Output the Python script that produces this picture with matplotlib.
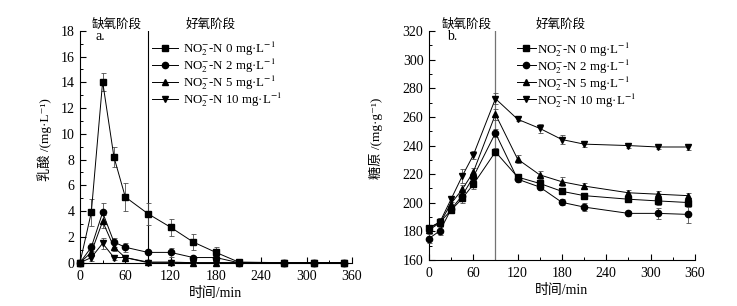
import matplotlib
matplotlib.use("Agg")
import matplotlib.pyplot as plt
from matplotlib.lines import Line2D
from matplotlib.ticker import MultipleLocator

plt.rcParams.update({
    "font.family": ["Liberation Serif", "Noto Sans CJK SC", "DejaVu Serif"],
    "mathtext.fontset": "stix",
    "font.size": 10,
    "axes.linewidth": 0.8,
})

# ---- data ----
TIME = [0, 15, 30, 45, 60, 90, 120, 150, 180, 210, 270, 310, 350]
LABELS = ["NO$_2^{-}$-N 0 mg·L$^{-1}$", "NO$_2^{-}$-N 2 mg·L$^{-1}$",
          "NO$_2^{-}$-N 5 mg·L$^{-1}$", "NO$_2^{-}$-N 10 mg·L$^{-1}$"]
MARKERS = ["s", "o", "^", "v"]

# panel a: lactic acid (mg/L)
LACT_0 = [0, 3.9, 14.05, 8.2, 5.1, 3.8, 2.75, 1.6, 0.8, 0.05, 0, 0, 0]
LACT_2 = [0, 1.2, 3.9, 1.6, 1.2, 0.8, 0.8, 0.4, 0.4, 0, 0, 0, 0]
LACT_5 = [0, 0.8, 3.2, 1.2, 0.4, 0.05, 0.05, 0, 0, 0, 0, 0, 0]
LACT_10 = [0, 0.4, 1.5, 0.4, 0.4, 0, 0, 0, 0, 0, 0, 0, 0]
LACT_ERR_0 = [0, 1.05, 0.7, 0.8, 1.05, 0.85, 0.65, 0.65, 0.4, 0.05, 0, 0, 0]
LACT_ERR_2 = [0, 0.3, 0.7, 0.35, 0.35, 0.1, 0.35, 0.1, 0.3, 0, 0, 0, 0]
LACT_ERR_5 = [0, 0.3, 0.5, 0.3, 0.1, 0.05, 0.05, 0, 0, 0, 0, 0, 0]
LACT_ERR_10 = [0, 0.3, 0.4, 0.2, 0.1, 0, 0, 0, 0, 0, 0, 0, 0]

# panel b: glycogen (mg/g)
GLY_0 = [182.6, 186.5, 194.8, 203, 212.8, 235.6, 218, 213.5, 208, 205, 202.5, 201.3, 200.2]
GLY_2 = [175, 180.5, 195.5, 205, 218, 248.8, 216.5, 211, 200.3, 197, 192.6, 192.6, 191.9]
GLY_5 = [181, 186, 199.5, 209.3, 221.4, 261.9, 230.5, 219.5, 214.7, 211.7, 207, 206, 205]
GLY_10 = [182, 186.7, 202.6, 218.6, 233.3, 272.8, 258.4, 252, 244.2, 241, 240, 239, 239]
GLY_ERR_0 = [2, 3, 2, 3, 3, 2.5, 2, 2, 2, 2, 2, 3, 3]
GLY_ERR_2 = [3, 3, 2, 3, 3, 3, 2, 2, 2, 3, 2, 4, 6]
GLY_ERR_5 = [2, 3, 3, 3, 3, 4, 3, 3, 3, 2, 2, 2, 2]
GLY_ERR_10 = [2, 3, 2, 5, 3, 4, 1.5, 3, 3, 2, 2, 1.5, 2]

CJK = ["Noto Sans CJK SC"]
MS = 4.5


def style_axes(ax, ymaj, ymin):
    for s in ("top", "right"):
        ax.spines[s].set_visible(False)
    ax.set_xlim(0, 360)
    ax.xaxis.set_major_locator(MultipleLocator(60))
    ax.xaxis.set_minor_locator(MultipleLocator(30))
    ax.yaxis.set_major_locator(MultipleLocator(ymaj))
    ax.yaxis.set_minor_locator(MultipleLocator(ymin))
    ax.tick_params(which="major", direction="in", length=4, width=0.8, pad=4)
    ax.tick_params(which="minor", direction="in", length=2, width=0.7)
    ax.tick_params(axis="x", pad=5)


def draw_series(ax, ys, errs):
    for y, e, m in zip(ys, errs, MARKERS):
        ax.errorbar(TIME, y, yerr=e, color="k", lw=0.7, marker=m, ms=MS,
                    ecolor="0.3", elinewidth=0.6, capsize=1.8, capthick=0.6,
                    clip_on=False, zorder=3)


def add_legend(ax, anchor, hlen, hpad):
    handles = [Line2D([0], [0], color="k", lw=0.7, marker=m, ms=MS) for m in MARKERS]
    ax.legend(handles, LABELS, loc="upper left", bbox_to_anchor=anchor,
              frameon=False, handlelength=hlen, handletextpad=hpad, borderpad=0,
              borderaxespad=0, labelspacing=-0.13, fontsize=9.3)


fig = plt.figure(figsize=(7.37, 3.06), dpi=100)
ax1 = fig.add_axes([0.1085, 0.1415, 0.369, 0.758])
ax2 = fig.add_axes([0.582, 0.1503, 0.361, 0.748])

# ---- panel a ----
draw_series(ax1, [LACT_0, LACT_2, LACT_5, LACT_10],
            [LACT_ERR_0, LACT_ERR_2, LACT_ERR_5, LACT_ERR_10])
style_axes(ax1, 2, 1)
ax1.set_ylim(0, 18)
ax1.axvline(90, color="k", lw=0.8, zorder=2)
ax1.set_xlabel("时间/min", labelpad=3)
ax1.set_ylabel("乳酸 /(mg·L⁻¹)", fontsize=9.5)
ax1.yaxis.set_label_coords(-0.103, 0.53)
ax1.text(0.058, 0.975, "a.", transform=ax1.transAxes, va="center", ha="left")
add_legend(ax1, (0.265, 0.962), 2.0, 0.4)

# ---- panel b ----
draw_series(ax2, [GLY_0, GLY_2, GLY_5, GLY_10],
            [GLY_ERR_0, GLY_ERR_2, GLY_ERR_5, GLY_ERR_10])
style_axes(ax2, 20, 10)
ax2.set_ylim(160, 320)
ax2.axvline(90, color="0.45", lw=0.9, zorder=2)
ax2.set_xlabel("时间/min", labelpad=3)
ax2.set_ylabel("糖原 /(mg·g⁻¹)", fontsize=9.5)
ax2.yaxis.set_label_coords(-0.173, 0.53)
ax2.text(0.068, 0.975, "b.", transform=ax2.transAxes, va="center", ha="left")
add_legend(ax2, (0.33, 0.962), 1.5, 0.1)

for ax, xs in ((ax1, (49, 173)), (ax2, (51, 178))):
    tr = ax.get_xaxis_transform()
    ax.text(xs[0], 1.03, "缺氧阶段", transform=tr, ha="center", va="center",
            family=CJK, fontsize=9)
    ax.text(xs[1], 1.03, "好氧阶段", transform=tr, ha="center", va="center",
            family=CJK, fontsize=9)

fig.savefig("out.png", dpi=100)
